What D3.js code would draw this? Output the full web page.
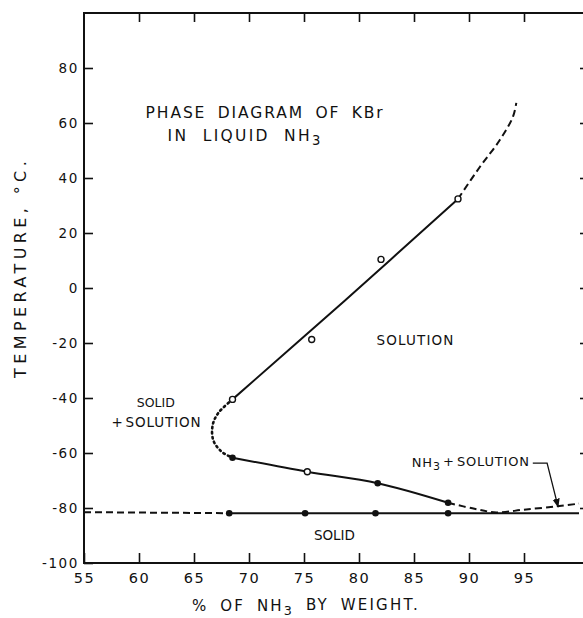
<!DOCTYPE html>
<html>
<head>
<meta charset="utf-8">
<title>Phase diagram of KBr in liquid NH3</title>
<style>
  body { margin: 0; background: #fff; }
  svg { display: block; }
  text { font-family: "DejaVu Sans", sans-serif; fill: #111; letter-spacing: 1.2px; }
  .axis text { font-size: 13.5px; letter-spacing: 1.6px; }
  .axis.bottom text { font-size: 14.5px; }
  .axis line { stroke: #111; stroke-width: 1.6px; }
  .frame { fill: none; stroke: #111; stroke-width: 2px; }
  .curve { fill: none; stroke: #111; stroke-width: 2px; }
  .dashed { stroke-dasharray: 7,4; }
  .dotted { stroke-dasharray: 1.5,3.5; stroke-width: 2.6px; stroke-linecap: round; }
  .leader { fill: none; stroke: #111; stroke-width: 1.3px; }
</style>
</head>
<body>
<svg width="583" height="618"></svg>
<script src="https://d3js.org/d3.v7.min.js"></script>
<script>
// x = % NH3 by weight, y = temperature in deg C
var xTicks = [55, 60, 65, 70, 75, 80, 85, 90, 95];
var yTicks = [-100, -80, -60, -40, -20, 0, 20, 40, 60, 80];

// KBr solubility curve (open circles) and the line drawn through them
var liquidusPts  = [[68.5, -40.5], [75.7, -18.7], [82.0, 10.4], [89.0, 32.4]];
var liquidusLine = [[68.5, -40.5], [78.7, -4.6], [89.0, 32.4]];
var liquidusExt  = [[89.0, 32.4], [91.0, 44.1], [92.8, 53.8], [94.0, 62.3], [94.3, 67.3]];

// dotted boundary of the solid + solution region
var transition = [[68.5, -40.5], [67.2, -45.5], [66.7, -49.8], [66.75, -55.3], [67.5, -59.5], [68.5, -61.7]];

// lower branch down to the eutectic
var lowerLine   = [[68.5, -61.7], [75.3, -66.8], [81.7, -71.0], [88.1, -78.1]];
var lowerOpen   = [[75.3, -66.8]];
var lowerFilled = [[68.5, -61.7], [81.7, -71.0], [88.1, -78.1]];
var lowerExt    = [[88.1, -78.1], [90.5, -80.3], [92.5, -81.6], [95.0, -80.6], [98.0, -79.4], [100, -78.4]];

// solidus
var solidusPts  = [[68.2, -81.9], [75.1, -81.9], [81.5, -81.9], [88.1, -81.9]];
var solidusLine = [[68.2, -81.9], [100, -81.9]];
var solidusExt  = [[55, -81.5], [68.2, -81.9]];

// leader for the NH3 + solution label
var leader = [[95.8, -63.7], [97.1, -63.7], [98.1, -79.6]];

var labels = [
  { text: "PHASE DIAGRAM OF KBr", x: 60.6, y: 61.8, width: 239, size: 15.5 },
  { text: "IN LIQUID NH3", x: 62.6, y: 53.5, width: 155, size: 15.5 },
  { text: "SOLUTION", x: 81.6, y: -20.7, width: 78, size: 13.5 },
  { text: "SOLID", x: 59.8, y: -43.2, width: 38, size: 12.5 },
  { text: "+ SOLUTION", x: 57.5, y: -50.4, width: 90, size: 13.5 },
  { text: "NH3 + SOLUTION", x: 84.8, y: -65.0, width: 118, size: 13 },
  { text: "SOLID", x: 75.9, y: -91.6, width: 41, size: 13.5 }
];

var svg = d3.select("svg");

var x = d3.scaleLinear().domain([55, 100]).range([84, 579]);
var y = d3.scaleLinear().domain([-100, 100]).range([563, 13]);
var frameRight = x(100) + 8;

var line = d3.line()
    .x(function(d) { return x(d[0]); })
    .y(function(d) { return y(d[1]); })
    .curve(d3.curveCatmullRom.alpha(0.5));

// stretch a label to the width it has in the scan:
// part of the difference goes between letters, the rest between words
function fitText(sel, target, letterShare) {
  var node = sel.node();
  var w = node.getComputedTextLength();
  var str = sel.text();
  var spaces = (str.match(/ /g) || []).length;
  var ls = parseFloat(getComputedStyle(node).letterSpacing) || 0;
  var extra = target - w;
  if (letterShare === undefined) letterShare = 0.5;
  if (spaces === 0) letterShare = 1;
  sel.style("letter-spacing", (ls + extra * letterShare / str.length) + "px");
  if (letterShare < 1) {
    sel.style("word-spacing", (extra * (1 - letterShare) / spaces) + "px");
  }
}

function addNH3(t, str) {
  var parts = str.split("NH3");
  t.append("tspan").text(parts[0] + (parts.length > 1 ? "NH" : ""));
  if (parts.length > 1) {
    t.append("tspan").attr("dy", "0.3em").style("font-size", "0.85em").text("3");
    t.append("tspan").attr("dy", "-0.3em").text(parts[1]);
  }
}

// frame
svg.append("rect").attr("class", "frame")
    .attr("x", x(55)).attr("y", y(100))
    .attr("width", frameRight - x(55)).attr("height", y(-100) - y(100));

svg.append("g").attr("class", "axis bottom")
    .attr("transform", "translate(0," + y(-100) + ")")
    .call(d3.axisBottom(x).tickValues(xTicks).tickSizeInner(-10).tickSizeOuter(0)
      .tickPadding(10).tickFormat(function(d) { return String(d); }))
    .call(function(g) { g.select(".domain").remove(); });

svg.append("g").attr("class", "axis")
    .attr("transform", "translate(" + x(55) + ",0)")
    .call(d3.axisLeft(y).tickValues(yTicks).tickSizeInner(-9).tickSizeOuter(0)
      .tickPadding(5).tickFormat(function(d) { return String(d); }))
    .call(function(g) { g.select(".domain").remove(); });

svg.append("g").attr("class", "axis")
    .attr("transform", "translate(0," + y(100) + ")")
    .call(d3.axisTop(x).tickValues(xTicks.slice(1)).tickSizeInner(-9).tickSizeOuter(0).tickFormat(""))
    .call(function(g) { g.select(".domain").remove(); });

svg.append("g").attr("class", "axis")
    .attr("transform", "translate(" + frameRight + ",0)")
    .call(d3.axisRight(y).tickValues(yTicks.slice(1)).tickSizeInner(-7).tickSizeOuter(0).tickFormat(""))
    .call(function(g) { g.select(".domain").remove(); });

// curves
svg.append("path").attr("class", "curve").attr("d", line(liquidusLine));
svg.append("path").attr("class", "curve dashed").attr("d", line(liquidusExt));
svg.append("path").attr("class", "curve dotted").attr("d", line(transition));
svg.append("path").attr("class", "curve").attr("d", line(lowerLine));
svg.append("path").attr("class", "curve dashed").attr("d", line(lowerExt));
svg.append("path").attr("class", "curve").attr("d", line(solidusLine));
svg.append("path").attr("class", "curve dashed").attr("d", line(solidusExt));

// points
svg.selectAll(".open")
  .data(liquidusPts.concat(lowerOpen))
  .enter().append("circle")
    .attr("class", "open")
    .attr("cx", function(d) { return x(d[0]); })
    .attr("cy", function(d) { return y(d[1]); })
    .attr("r", 3)
    .attr("fill", "#fff").attr("stroke", "#111").attr("stroke-width", 1.4);

svg.selectAll(".filled")
  .data(lowerFilled.concat(solidusPts))
  .enter().append("circle")
    .attr("class", "filled")
    .attr("cx", function(d) { return x(d[0]); })
    .attr("cy", function(d) { return y(d[1]); })
    .attr("r", 3.3)
    .attr("fill", "#111");

// leader with arrow
svg.append("defs").append("marker")
    .attr("id", "arrow").attr("viewBox", "0 0 10 10")
    .attr("refX", 9).attr("refY", 5)
    .attr("markerWidth", 7).attr("markerHeight", 7)
    .attr("orient", "auto")
  .append("path").attr("d", "M0,1L10,5L0,9Z").attr("fill", "#111");

svg.append("path").attr("class", "leader")
    .attr("d", d3.line().x(function(d) { return x(d[0]); }).y(function(d) { return y(d[1]); })(leader))
    .attr("marker-end", "url(#arrow)");

// labels
labels.forEach(function(l) {
  var t = svg.append("text")
      .attr("x", x(l.x)).attr("y", y(l.y))
      .style("font-size", l.size + "px");
  addNH3(t, l.text);
  fitText(t, l.width);
});

// axis titles
var xt = svg.append("text")
    .attr("x", x(55) + 108).attr("y", y(-100) + 48)
    .style("font-size", "15px");
addNH3(xt, "% OF NH3 BY WEIGHT.");
fitText(xt, 228);

var yt = svg.append("text")
    .attr("transform", "translate(" + (x(55) - 58) + "," + y(7.5) + ") rotate(-90)")
    .attr("text-anchor", "middle")
    .style("font-size", "16px")
    .text("TEMPERATURE, °C.");
fitText(yt, 221, 1);
</script>
</body>
</html>
